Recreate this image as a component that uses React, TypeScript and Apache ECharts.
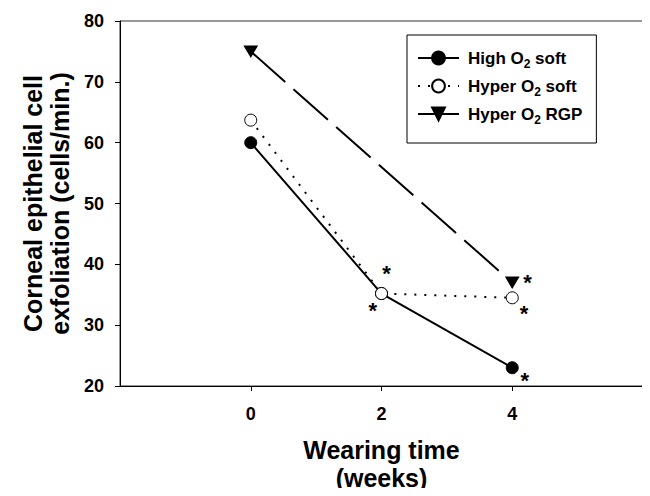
import React, { useEffect, useRef } from "react";
import * as echarts from "echarts";

const weeks = [0, 2, 4];
const highO2Soft = [60, 35.2, 23];
const hyperO2Soft = [63.7, 35.2, 34.5];
const rgpWeeks = [0, 4];
const hyperO2RGP = [75, 37];
const yTicks = [20, 30, 40, 50, 60, 70, 80];
const xTicks = [0, 2, 4];
// significance asterisks, in data coordinates (week, cells/min.)
const asteriskPoints: [number, number][] = [
  [2.077, 39.3],
  [1.867, 33.3],
  [4.235, 37.9],
  [4.18, 32.8],
  [4.19, 21.8],
];

const seriesNames = ["High O2 soft", "Hyper O2 soft", "Hyper O2 RGP"];
const legendLabels: Record<string, string> = {
  "High O2 soft": "High O{s|2} soft",
  "Hyper O2 soft": "Hyper O{s|2} soft",
  "Hyper O2 RGP": "Hyper O{s|2} RGP",
};

const FONT = "'Liberation Sans', Arial, Helvetica, sans-serif";

export default function App() {
  const ref = useRef<HTMLDivElement>(null);
  useEffect(() => {
    if (!ref.current) return;
    const chart = echarts.init(ref.current, undefined, { renderer: "svg" });
    chart.setOption({
      animation: false,
      backgroundColor: "#fff",
      grid: {
        left: 120,
        right: 7,
        top: 21,
        bottom: 110,
        containLabel: false,
        outerBoundsMode: "none",
        show: true,
        borderColor: "#333",
        borderWidth: 1,
      },
      xAxis: {
        type: "value",
        min: -2,
        max: 6,
        interval: 2,
        name: "Wearing time\n(weeks)",
        nameLocation: "middle",
        nameGap: 50,
        nameTextStyle: {
          fontFamily: FONT,
          fontWeight: "bold",
          fontSize: 25,
          lineHeight: 28,
          color: "#000",
        },
        axisLine: { show: true, onZero: false, lineStyle: { color: "#000", width: 1 } },
        axisTick: {
          show: true,
          inside: false,
          length: 5,
          customValues: xTicks,
          lineStyle: { color: "#000" },
        },
        axisLabel: {
          customValues: xTicks,
          margin: 19,
          fontFamily: FONT,
          fontWeight: "bold",
          fontSize: 18,
          color: "#000",
        },
        splitLine: { show: false },
      },
      yAxis: {
        type: "value",
        min: 20,
        max: 80,
        interval: 10,
        name: "Corneal epithelial cell\nexfoliation (cells/min.)",
        nameLocation: "middle",
        nameGap: 47,
        nameTextStyle: {
          fontFamily: FONT,
          fontWeight: "bold",
          fontSize: 25,
          lineHeight: 27,
          color: "#000",
        },
        axisLine: { show: true, onZero: false, lineStyle: { color: "#000", width: 1 } },
        axisTick: {
          show: true,
          inside: false,
          length: 5,
          customValues: yTicks,
          lineStyle: { color: "#000" },
        },
        axisLabel: {
          customValues: yTicks,
          margin: 16,
          fontFamily: FONT,
          fontWeight: "bold",
          fontSize: 18,
          color: "#000",
        },
        splitLine: { show: false },
      },
      legend: {
        data: seriesNames,
        orient: "vertical",
        left: 407,
        top: 35,
        itemWidth: 41,
        itemHeight: 16,
        itemGap: 4,
        padding: [11, 14, 17, 10],
        borderColor: "#000",
        borderWidth: 1,
        backgroundColor: "#fff",
        selectedMode: false,
        formatter: (name: string) => legendLabels[name] || name,
        textStyle: {
          fontFamily: FONT,
          fontWeight: "bold",
          fontSize: 17,
          lineHeight: 17,
          color: "#000",
          padding: [0, 0, 0, 4],
          rich: {
            s: {
              fontFamily: FONT,
              fontWeight: "bold",
              fontSize: 12,
              lineHeight: 12,
              padding: [12, 0, 0, 0],
              color: "#000",
            },
          },
        },
      },
      series: [
        {
          name: "High O2 soft",
          type: "line",
          data: weeks.map((w, i) => [w, highO2Soft[i]]),
          symbol: "circle",
          symbolSize: 12,
          showAllSymbol: true,
          itemStyle: { color: "#000", borderColor: "#000", borderWidth: 1 },
          lineStyle: { color: "#000", width: 2 },
          z: 2,
        },
        {
          name: "Hyper O2 soft",
          type: "line",
          data: weeks.map((w, i) => [w, hyperO2Soft[i]]),
          symbol: "circle",
          symbolSize: 12,
          itemStyle: { color: "#fff", borderColor: "#000", borderWidth: 1 },
          lineStyle: { color: "#000", width: 2, type: [2, 8] },
          z: 3,
        },
        {
          name: "Hyper O2 RGP",
          type: "line",
          data: rgpWeeks.map((w, i) => [w, hyperO2RGP[i]]),
          symbol: "triangle",
          symbolRotate: 180,
          symbolSize: [13, 11],
          itemStyle: { color: "#000", borderColor: "#000", borderWidth: 1 },
          lineStyle: { color: "#000", width: 2, type: [46, 11] },
          z: 4,
        },
        {
          name: "significance",
          type: "scatter",
          data: asteriskPoints,
          symbol: "circle",
          symbolSize: 1,
          itemStyle: { color: "rgba(0,0,0,0)", opacity: 1 },
          silent: true,
          label: {
            show: true,
            position: "inside",
            formatter: "*",
            offset: [0, 5],
            fontFamily: FONT,
            fontWeight: "bold",
            fontSize: 22,
            color: "#000",
          },
          z: 5,
        },
      ],
    });
    return () => chart.dispose();
  }, []);
  return <div ref={ref} style={{ width: 650, height: 496, margin: -8 }} />;
}
